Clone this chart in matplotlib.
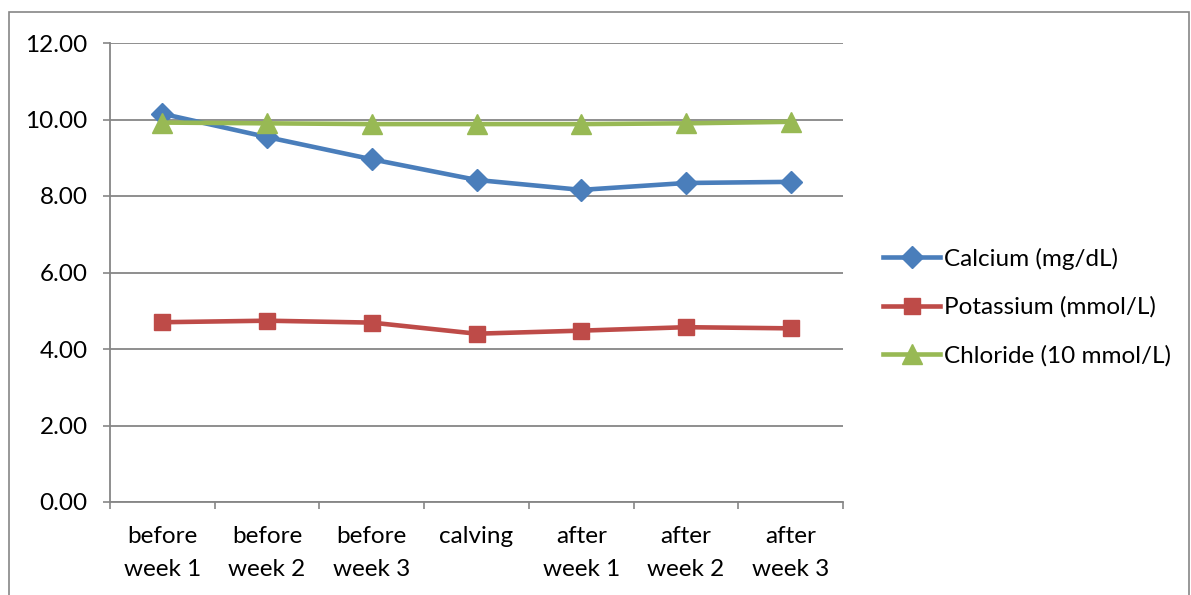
import matplotlib
matplotlib.use("Agg")
import matplotlib.pyplot as plt
from matplotlib.patches import Rectangle
import numpy as np

categories = ["before\nweek 1", "before\nweek 2", "before\nweek 3", "calving",
              "after\nweek 1", "after\nweek 2", "after\nweek 3"]
calcium = [10.15, 9.54, 8.96, 8.42, 8.16, 8.34, 8.37]
potassium = [4.70, 4.74, 4.69, 4.40, 4.48, 4.57, 4.54]
chloride = [9.92, 9.90, 9.88, 9.88, 9.88, 9.90, 9.94]
series_names = ["Calcium (mg/dL)", "Potassium (mmol/L)", "Chloride (10 mmol/L)"]
yticks = [0, 2, 4, 6, 8, 10, 12]

plt.rcParams['font.family'] = ['Lato', 'DejaVu Sans']
FS = 17.5
grey = "#868686"

fig = plt.figure(figsize=(11.91, 5.95), dpi=100)
fig.patches.append(Rectangle((9/1191, -0.1), 1180/1191, 1 - 12/595 + 0.1,
                             transform=fig.transFigure, fill=False,
                             edgecolor=grey, linewidth=1.2))
ax = fig.add_axes([110/1191, 1 - 502/595, (843 - 110)/1191, (502 - 43)/595])

x = np.arange(len(categories))
l1, = ax.plot(x, calcium, color="#4A7EBB", lw=3.3, marker="D", markersize=11.5,
              zorder=4)
l2, = ax.plot(x, potassium, color="#BE4B48", lw=3.3, marker="s", markersize=12,
              zorder=3)
l3, = ax.plot(x, chloride, color="#98B954", lw=3.3, marker="^", markersize=14,
              zorder=5)

ax.set_xlim(-0.5, len(categories) - 0.5)
ax.set_ylim(0, 12)
ax.set_yticks(yticks)
ax.set_yticklabels([f"{v:.2f}" for v in yticks], fontsize=FS)
ax.yaxis.grid(True, color=grey, lw=1.3)
ax.set_axisbelow(True)

ax.set_xticks(x)
ax.set_xticklabels(categories, fontsize=FS, linespacing=1.75)
ax.set_xticks(np.arange(-0.5, len(categories)), minor=True)
ax.tick_params(axis="x", which="major", length=0, pad=17)
ax.tick_params(axis="x", which="minor", length=5, width=1.2, color=grey)
ax.tick_params(axis="y", length=5, width=1.2, color=grey, pad=11)

for s in ["top", "right"]:
    ax.spines[s].set_visible(False)
for s in ["left", "bottom"]:
    ax.spines[s].set_color(grey)
    ax.spines[s].set_linewidth(1.3)

leg = fig.legend([l1, l2, l3], series_names, loc="center left",
                 bbox_to_anchor=(883/1191, 1 - 307/595), frameon=False,
                 fontsize=FS, handlelength=2.35, handletextpad=0.15,
                 labelspacing=1.1, borderpad=0, borderaxespad=0)

fig.savefig("out.png", dpi=100)
